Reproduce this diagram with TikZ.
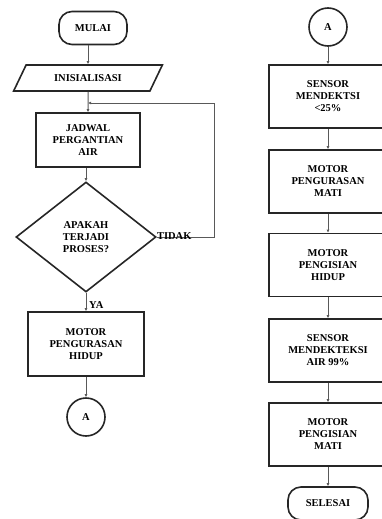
\documentclass[tikz,border=0pt]{standalone}
\usepackage{fontspec}
\setmainfont{Liberation Serif}
\usetikzlibrary{arrows.meta, shapes.geometric}

\begin{document}
\begin{tikzpicture}[x=1pt, y=-1pt,
        txt/.style={align=center, font=\bfseries\fontsize{10.5}{12}\selectfont, inner sep=0pt},
        box/.style={txt, draw=black!85, line width=1.6pt},
        term/.style={box, rectangle, rounded corners=13pt, minimum height=33},
        iobox/.style={box, trapezium, trapezium left angle=46, trapezium right angle=134, trapezium stretches=true, minimum width=150, minimum height=26},
        leftbox/.style={box, rectangle},
        rightbox/.style={box, rectangle, minimum width=118, minimum height=63},
        decision/.style={box, diamond, minimum width=140, minimum height=110},
        conn/.style={box, circle, minimum size=38},
        flow/.style={-{Latex[length=3pt, width=3pt]}, draw=black!65, line width=1pt}]
        \clip (0,0) rectangle (382,519);

        % left column
        \node[term, minimum width=68] (mulai) at (93,28) {MULAI};
        \node[iobox] (init) at (88,78) {INISIALISASI};
        \coordinate (join) at (88,103);
        \node[leftbox, minimum width=104, minimum height=54] (jadwal) at (88,140) {JADWAL\\PERGANTIAN\\AIR};
        \node[decision] (proses) at (86,237) {APAKAH\\TERJADI\\PROSES?};
        \node[leftbox, minimum width=116, minimum height=64] (kurashidup) at (86,344) {MOTOR\\PENGURASAN\\HIDUP};
        \node[conn] (a1) at (86,417) {A};

        \draw [flow] (mulai.south -| init.north) -- (init.north);
        \draw [flow] (init.south) -- (jadwal.north);
        \draw [flow] (jadwal.south -| proses.north) -- (proses.north);
        \draw [flow] (proses.south) -- (kurashidup.north);
        \draw [flow] (kurashidup.south) -- (a1.north);
        \draw [flow] (proses.east) -- ++(58,0) |- (join);

        \node[txt, anchor=south west] (tidak) at ([yshift=-3pt]proses.east) {TIDAK};
        \node[txt, anchor=west] (ya) at ([xshift=3pt, yshift=-12pt]proses.south) {YA};

        % right column
        \node[conn] (a2) at (328,27) {A};
        \node[rightbox] (sensorlow) at (328,96.5) {SENSOR\\MENDEKTSI\\<25\%};
        \node[rightbox] (kurasmati) at (328,181.5) {MOTOR\\PENGURASAN\\MATI};
        \node[rightbox] (isihidup) at (328,265) {MOTOR\\PENGISIAN\\HIDUP};
        \node[rightbox] (sensorfull) at (328,350.5) {SENSOR\\MENDEKTEKSI\\AIR 99\%};
        \node[rightbox] (isimati) at (328,434.5) {MOTOR\\PENGISIAN\\MATI};
        \node[term, minimum width=80] (selesai) at (328,503.5) {SELESAI};

        \foreach \from/\to in {a2/sensorlow, sensorlow/kurasmati, kurasmati/isihidup,
                isihidup/sensorfull, sensorfull/isimati, isimati/selesai}
            \draw [flow] (\from) -- (\to);
\end{tikzpicture}
\end{document}
